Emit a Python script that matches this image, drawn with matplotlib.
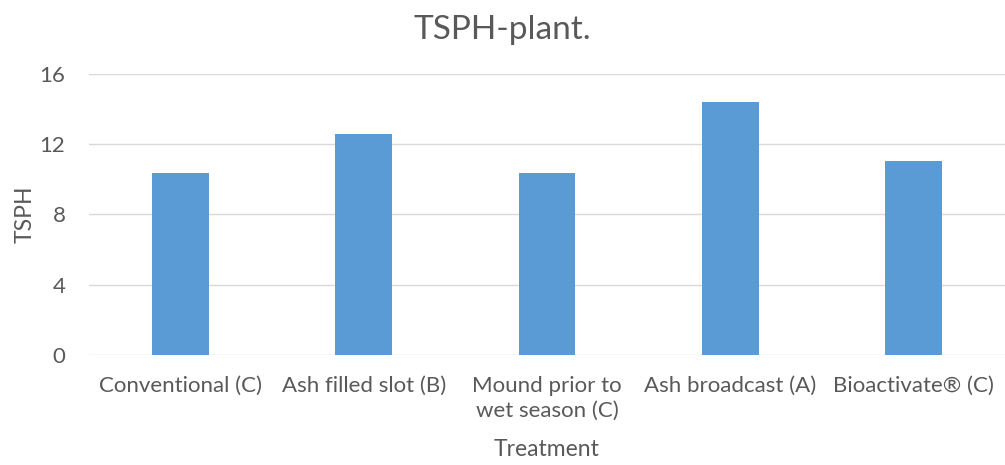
import matplotlib.pyplot as plt
import numpy as np

treatments = ["Conventional (C)", "Ash filled slot (B)", "Mound prior to\nwet season (C)",
              "Ash broadcast (A)", "Bioactivate\u00ae (C)"]
tsph = [10.36, 12.6, 10.38, 14.41, 11.05]
yticks = [0, 4, 8, 12, 16]

TEXT = "#595959"
plt.rcParams['font.family'] = ['Lato', 'DejaVu Sans']

fig = plt.figure(figsize=(10.05, 4.65), dpi=100)
ax = fig.add_axes([0.0886, 0.2366, 0.9114, 0.6043])

x = np.arange(len(treatments))
ax.bar(x, tsph, width=0.31, color="#5B9BD5", zorder=3)

ax.set_xlim(-0.5, len(treatments) - 0.5)
ax.set_ylim(0, 16)
ax.set_yticks(yticks)
ax.set_xticks(x)
ax.set_xticklabels(treatments, fontsize=16, color=TEXT, linespacing=1.32)
ax.tick_params(axis='y', labelsize=16, colors=TEXT, length=0, pad=17)
ax.tick_params(axis='x', length=0, pad=15)
ax.grid(axis='y', color="#D9D9D9", linewidth=1, zorder=0)
for s in ax.spines.values():
    s.set_visible(False)

ax.set_xlabel("Treatment", fontsize=16.5, color=TEXT, labelpad=13)
ax.set_ylabel("TSPH", fontsize=16.5, color=TEXT, labelpad=3)
fig.suptitle("TSPH-plant.", fontsize=24, color=TEXT, y=0.968)

fig.savefig("out.png", dpi=100)
